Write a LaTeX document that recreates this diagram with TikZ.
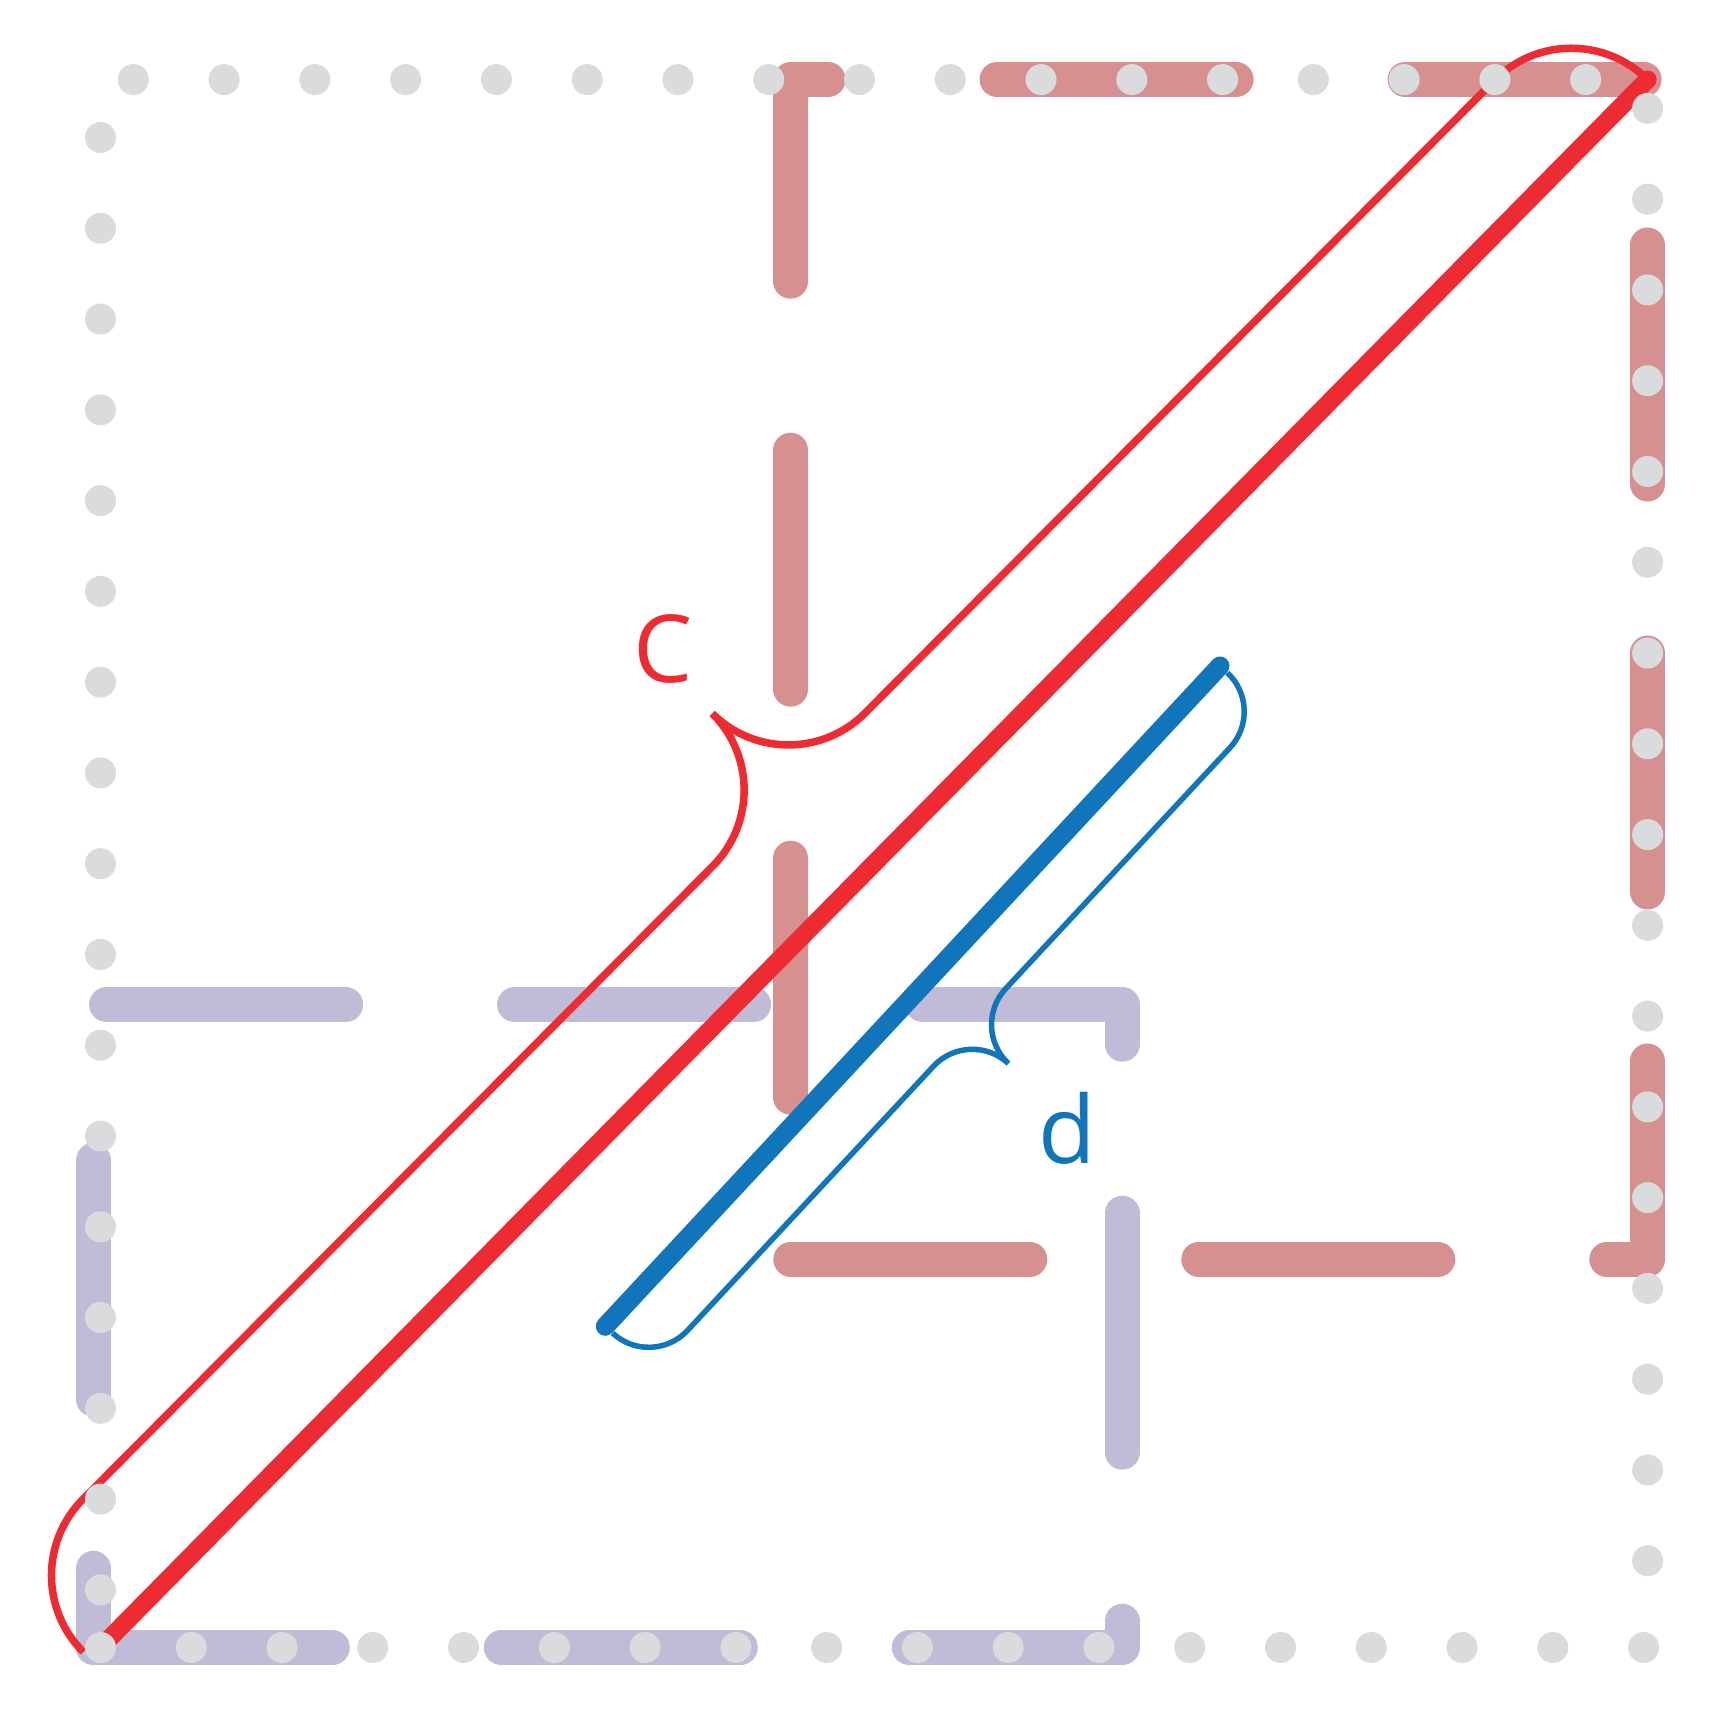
\documentclass[tikz,border=0pt]{standalone}
\usepackage{fontspec}
\setmainfont{Open Sans}
\usepackage{tikz}
\usetikzlibrary{calc}

\definecolor{rosebar}{HTML}{D5908F}
\definecolor{lilacbar}{HTML}{C0BBD6}
\definecolor{griddot}{HTML}{DADBDD}
\definecolor{diagred}{HTML}{EE2A33}
\definecolor{diagblue}{HTML}{1175BB}

\tikzset{
  dashbar/.style={line width=0.35cm, line cap=round, line join=round, dash pattern=on 2.39cm off 1.69cm},
  dotline/.style={griddot, line width=0.31cm, line cap=round, dash pattern=on 0pt off 0.9077cm},
  seglabel/.style={anchor=base, inner sep=0pt, font=\fontsize{26.7}{32}\selectfont},
}

\begin{document}
\begin{tikzpicture}
\useasboundingbox (0,0) rectangle (17.12,17.12);
% --- Corners ---
\coordinate (SW) at (1.005,0.645);
\coordinate (SE) at (16.476,0.645);
\coordinate (NE) at (16.476,16.324);
\coordinate (NW) at (1.005,16.324);
% Lilac and rose rectangles
\coordinate (L1) at (0.933,0.645);
\coordinate (L2) at (11.22,7.074);
\coordinate (R1) at (7.908,4.528);
\coordinate (R2) at (16.476,16.325);
% Start of brace c
\coordinate (S) at (0.833,0.600);
% Ends of segment d
\coordinate (P) at (6.053,3.857);
\coordinate (Q) at (12.20,10.46);

% --- Dashed rectangles ---
\draw[dashbar, lilacbar] (L1) -- (L1 -| L2) -- (L2) -- (L1 |- L2) -- cycle;
\draw[dashbar, rosebar] (R1) -- (R1 -| R2) -- (R2) -- (R1 |- R2) -- cycle;

% --- Diagonal c with its brace ---
\def\lenC{22.180}
\def\rC{1.08}
\draw[diagred, line width=0.18cm, line cap=round] (SW) -- (NE);
\begin{scope}[shift={(S)}, rotate=45.148]
\draw[diagred, line width=0.075cm] (0,0) arc[start angle=180, end angle=90, radius=\rC]
  -- ({\lenC/2-\rC},\rC) arc[start angle=270, end angle=360, radius=\rC]
  arc[start angle=180, end angle=270, radius=\rC]
  -- ({\lenC-\rC},\rC) arc[start angle=90, end angle=0, radius=\rC];
\end{scope}
\node[seglabel, diagred] (labC) at (6.63,10.29) {C};

% --- Segment d with its brace ---
\def\lenD{9.022}
\def\rD{0.53}
\def\tipD{4.67}
\draw[diagblue, line width=0.19cm, line cap=round] (P) -- (Q);
\begin{scope}[shift={(P)}, rotate=47.05, yscale=-1, yshift=0.1cm]
\draw[diagblue, line width=0.055cm] (0,0) arc[start angle=180, end angle=90, radius=\rD]
  -- ({\tipD-\rD},\rD) arc[start angle=270, end angle=360, radius=\rD]
  arc[start angle=180, end angle=270, radius=\rD]
  -- ({\lenD-\rD},\rD) arc[start angle=90, end angle=0, radius=\rD];
\end{scope}
\node[seglabel, diagblue] (labD) at (10.67,5.48) {d};

% --- Dotted frame on top ---
\draw[dotline] (SW) -- (SE) -- (NE) -- (NW) -- cycle;
\end{tikzpicture}
\end{document}
